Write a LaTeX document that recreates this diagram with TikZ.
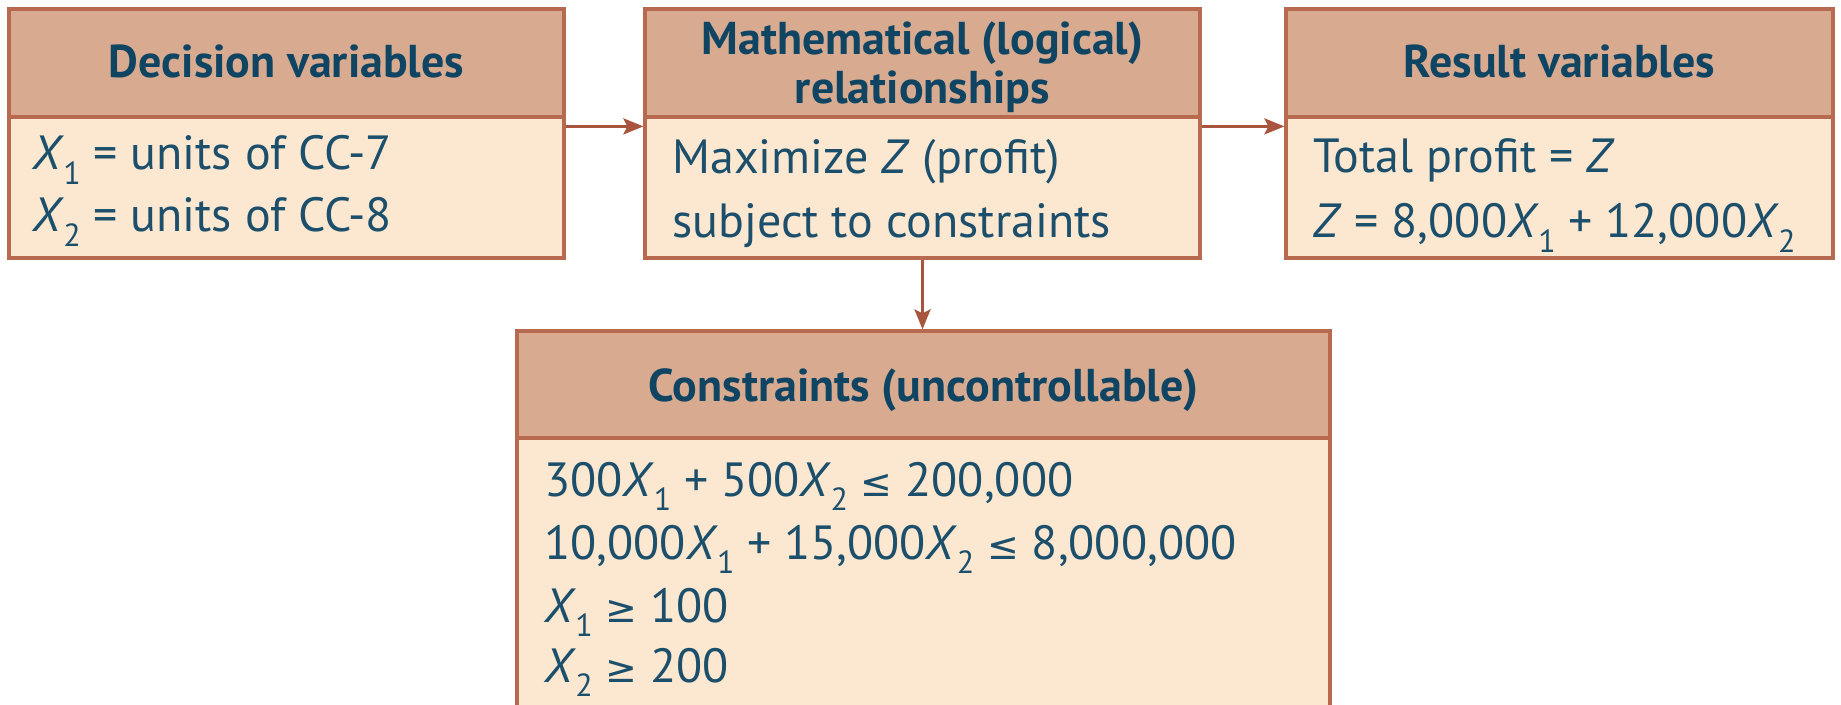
\documentclass[tikz,border=0pt]{standalone}
\usepackage{fontspec}
\setmainfont{PT Sans}
\newfontfamily\symfont{DejaVu Sans}
\usetikzlibrary{arrows.meta}
\definecolor{hdrfill}{HTML}{D8AB91}
\definecolor{bodyfill}{HTML}{FCE7D0}
\definecolor{edgecol}{HTML}{B86A50}
\definecolor{arrcol}{HTML}{A9553D}
\definecolor{ink}{HTML}{0F4562}
\definecolor{bodyink}{HTML}{1B4F6B}
\newcommand{\Xv}[1]{\textit{X}\kern-0.02em\raisebox{-0.6ex}{\fontsize{16}{16}\selectfont #1}}
\newcommand{\lesym}{{\symfont\fontsize{19}{19}\selectfont ≤}}
\newcommand{\gesym}{{\symfont\fontsize{19}{19}\selectfont ≥}}
\begin{document}
\begin{tikzpicture}[x=0.5pt,y=-0.5pt,
  hdr/.style={draw=edgecol, line width=1.6pt, fill=hdrfill, inner sep=0pt, rectangle},
  bodybox/.style={draw=edgecol, line width=1.6pt, fill=bodyfill, inner sep=0pt, rectangle},
  htxt/.style={font=\fontsize{23}{27}\selectfont\bfseries, text=ink, inner sep=0pt, anchor=base, align=center},
  txt/.style={font=\fontsize{24}{28}\selectfont, text=bodyink, inner sep=0pt, anchor=base west},
  arr/.style={draw=arrcol, line width=1.5pt, -{Stealth[length=10pt,width=8pt,inset=2pt]}}]
\useasboundingbox (0,0) rectangle (1841,705);
\fill[white] (0,0) rectangle (1841,705);
% box 1
\node[bodybox, minimum width=277.5pt, minimum height=70.5pt] (b1) at (286.5,187.5) {};
\node[hdr, minimum width=277.5pt, minimum height=54pt] (h1) at (286.5,63) {};
% box 2
\node[bodybox, minimum width=277.5pt, minimum height=70.5pt] (b2) at (922.5,187.5) {};
\node[hdr, minimum width=277.5pt, minimum height=54pt] (h2) at (922.5,63) {};
% box 3
\node[bodybox, minimum width=273.5pt, minimum height=70.5pt] (b3) at (1559.5,187.5) {};
\node[hdr, minimum width=273.5pt, minimum height=54pt] (h3) at (1559.5,63) {};
% box 4
\node[bodybox, minimum width=406.5pt, minimum height=141pt] (b4) at (923.5,579) {};
\node[hdr, minimum width=406.5pt, minimum height=53.5pt] (h4) at (923.5,384.5) {};
% headers
\node[htxt] (t1) at (286.5,78) {Decision variables};
\node[htxt] (t2a) at (922.5,55) {Mathematical (logical)};
\node[htxt] (t2b) at (922.5,104) {relationships};
\node[htxt] (t3) at (1559.5,78) {Result variables};
\node[htxt] (t4) at (923.5,401) {Constraints (uncontrollable)};
% body texts
\node[txt] (l11) at (32,170) {\Xv{1} = units of CC-7};
\node[txt] (l12) at (32,232) {\Xv{2} = units of CC-8};
\node[txt] (l21) at (672,174) {Maximize \textit{Z} (profit)};
\node[txt] (l22) at (672,238) {subject to constraints};
\node[txt] (l31) at (1313,173) {Total profit = \textit{Z}};
\node[txt] (l32) at (1313,238) {\textit{Z} = 8,000\Xv{1} + 12,000\Xv{2}};
\node[txt] (l41) at (544,496) {300\Xv{1} + 500\Xv{2} \lesym{} 200,000};
\node[txt] (l42) at (544,559) {10,000\Xv{1} + 15,000\Xv{2} \lesym{} 8,000,000};
\node[txt] (l43) at (544,622) {\Xv{1} \gesym{} 100};
\node[txt] (l44) at (544,682) {\Xv{2} \gesym{} 200};
% connectors
\draw[arr] ([yshift=-5.5pt]b1.north east) -- ([yshift=-5.5pt]b2.north west);
\draw[arr] ([yshift=-5.5pt]b2.north east) -- ([yshift=-5.5pt]b3.north west);
\draw[arr] (b2.south) -- (b2.south |- h4.north);
\end{tikzpicture}
\end{document}
